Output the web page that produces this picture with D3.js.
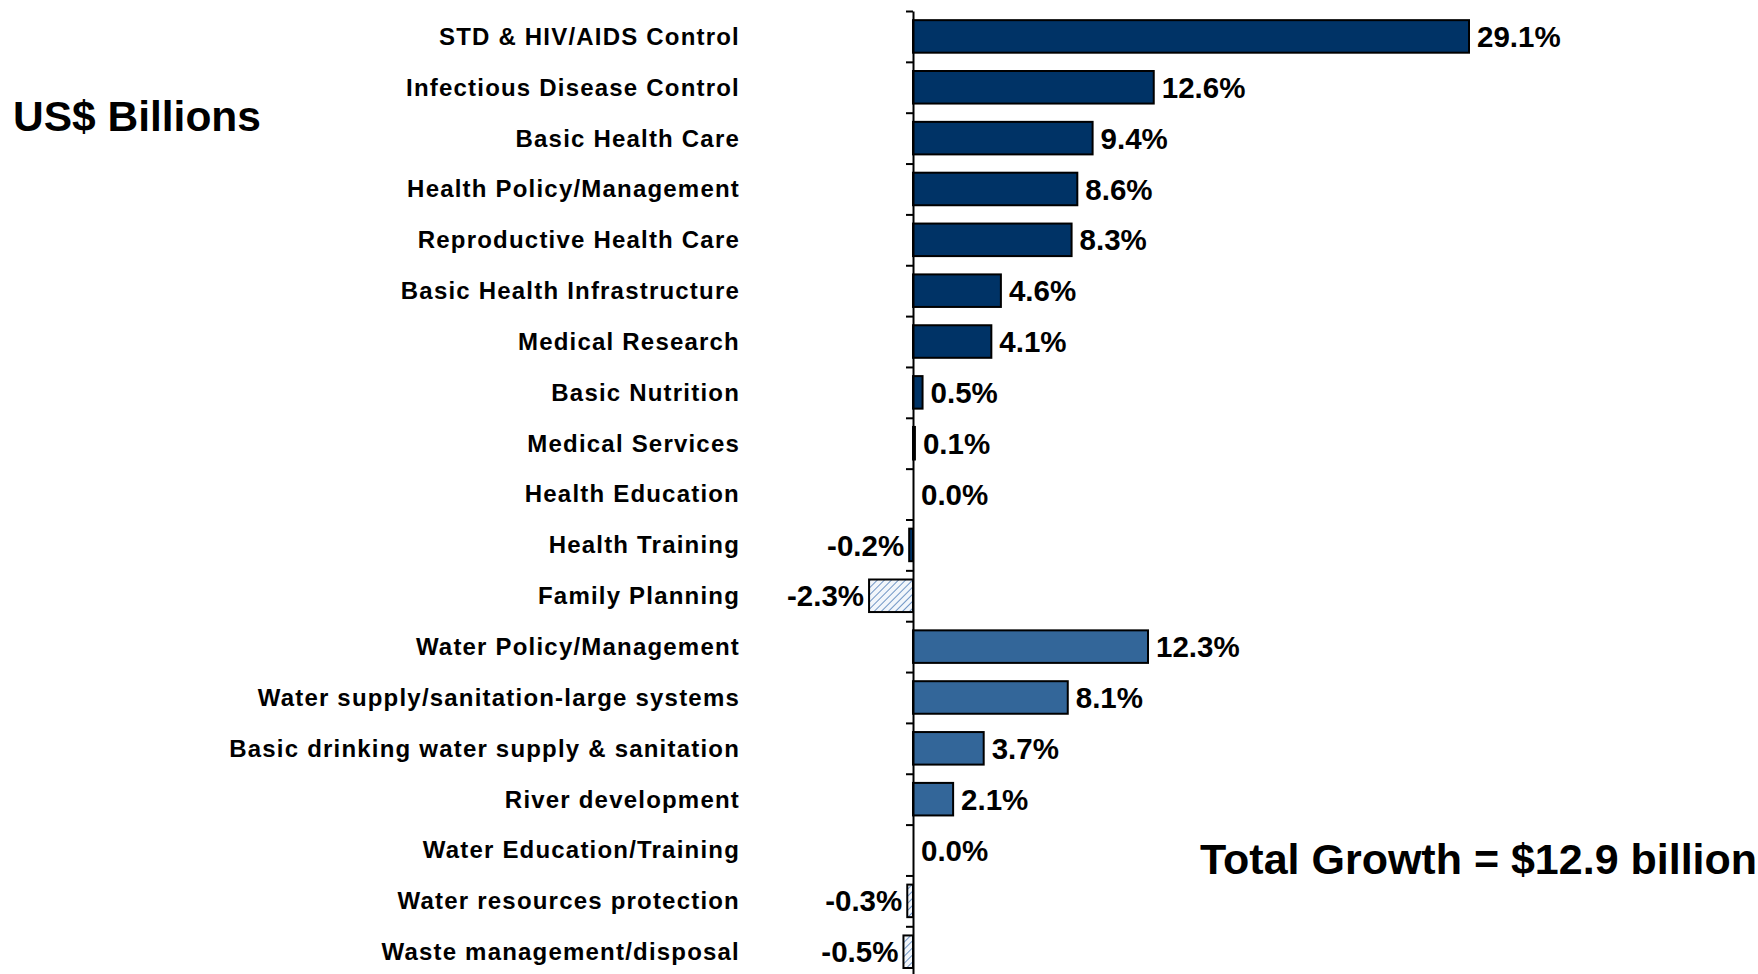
<!DOCTYPE html>
<html>
<head>
<meta charset="utf-8">
<script src="https://cdn.jsdelivr.net/npm/d3@7"></script>
<style>
  html, body { margin: 0; padding: 0; background: #fff; }
  svg { display: block; font-family: "Liberation Sans", Arial, sans-serif; }
</style>
</head>
<body>
<div id="chart"></div>
<script>
// Growth in aid commitments by sector (share of total growth)
const categories = [
  "STD & HIV/AIDS Control",
  "Infectious Disease Control",
  "Basic Health Care",
  "Health Policy/Management",
  "Reproductive Health Care",
  "Basic Health Infrastructure",
  "Medical Research",
  "Basic Nutrition",
  "Medical Services",
  "Health Education",
  "Health Training",
  "Family Planning",
  "Water Policy/Management",
  "Water supply/sanitation-large systems",
  "Basic drinking water supply & sanitation",
  "River development",
  "Water Education/Training",
  "Water resources protection",
  "Waste management/disposal"
];
const values = [29.1, 12.6, 9.4, 8.6, 8.3, 4.6, 4.1, 0.5, 0.1, 0.0, -0.2, -2.3, 12.3, 8.1, 3.7, 2.1, 0.0, -0.3, -0.5];
const sectors = ["health", "health", "health", "health", "health", "health", "health", "health", "health", "health", "health", "health",
                 "water", "water", "water", "water", "water", "water", "water"];
const hatched = [false, false, false, false, false, false, false, false, false, false, false, true,
                 false, false, false, false, false, true, true];
const unitLabel = "US$ Billions";
const totalLabel = "Total Growth = $12.9 billion";

const width = 1758, height = 974;
const axisX = 913;
const plotTop = 11, step = 50.85;

const data = categories.map((c, i) => ({ name: c, value: values[i], sector: sectors[i], hatch: hatched[i] }));

const svg = d3.select("#chart").append("svg")
  .attr("width", width)
  .attr("height", height);

const defs = svg.append("defs");
const pat = defs.append("pattern")
  .attr("id", "hatch")
  .attr("patternUnits", "userSpaceOnUse")
  .attr("width", 5)
  .attr("height", 5)
  .attr("patternTransform", "rotate(45)");
pat.append("rect").attr("width", 5).attr("height", 5).attr("fill", "#f2f6fb");
pat.append("line")
  .attr("x1", 0).attr("y1", 0).attr("x2", 0).attr("y2", 5)
  .attr("stroke", "#6f94c4")
  .attr("stroke-width", 2);

const x = d3.scaleLinear()
  .domain([0, 29.1])
  .range([axisX, axisX + 556]);

const y = d3.scaleBand()
  .domain(categories)
  .range([plotTop, plotTop + step * categories.length])
  .paddingInner(0.36)
  .paddingOuter(0.18);

const colors = { health: "#003366", water: "#336699" };

// bars (zero values get no rect)
svg.selectAll(".bar")
  .data(data.filter(d => d.value !== 0))
  .enter()
  .append("rect")
  .attr("class", "bar")
  .attr("x", d => x(Math.min(0, d.value)))
  .attr("y", d => y(d.name))
  .attr("width", d => Math.abs(x(d.value) - x(0)))
  .attr("height", y.bandwidth())
  .attr("fill", d => d.hatch ? "url(#hatch)" : colors[d.sector])
  .attr("stroke", "#000")
  .attr("stroke-width", 2);

// axis with ticks on category boundaries
const tickScale = d3.scaleLinear()
  .domain([0, categories.length])
  .range([plotTop, plotTop + step * categories.length]);

const axis = d3.axisLeft(tickScale)
  .tickValues(d3.range(0, categories.length + 1))
  .tickFormat("")
  .tickSizeInner(7)
  .tickSizeOuter(0);

const gAxis = svg.append("g")
  .attr("transform", `translate(${axisX}, 0)`)
  .call(axis);
gAxis.select("path.domain").attr("stroke", "#000").attr("stroke-width", 2);
gAxis.selectAll(".tick line").attr("stroke", "#000").attr("stroke-width", 2);

// category labels
svg.selectAll(".cat")
  .data(data)
  .enter()
  .append("text")
  .attr("class", "cat")
  .attr("x", 740)
  .attr("y", d => y(d.name) + y.bandwidth() / 2)
  .attr("dy", "0.35em")
  .attr("text-anchor", "end")
  .style("font-size", "24px")
  .style("font-weight", "bold")
  .style("letter-spacing", "1.2px")
  .style("fill", "#000")
  .text(d => d.name);

// value labels
svg.selectAll(".val")
  .data(data)
  .enter()
  .append("text")
  .attr("class", "val")
  .attr("x", d => d.value < 0 ? x(d.value) - 5 : x(d.value) + 8)
  .attr("y", d => y(d.name) + y.bandwidth() / 2)
  .attr("dy", "0.36em")
  .attr("text-anchor", d => d.value < 0 ? "end" : "start")
  .style("font-size", "29.5px")
  .style("font-weight", "bold")
  .style("fill", "#000")
  .text(d => d.value.toFixed(1) + "%");

svg.append("text")
  .attr("x", 13)
  .attr("y", 131)
  .style("font-size", "42.5px")
  .style("font-weight", "bold")
  .text(unitLabel);

svg.append("text")
  .attr("x", 1200)
  .attr("y", 874)
  .style("font-size", "43px")
  .style("font-weight", "bold")
  .text(totalLabel);
</script>
</body>
</html>
